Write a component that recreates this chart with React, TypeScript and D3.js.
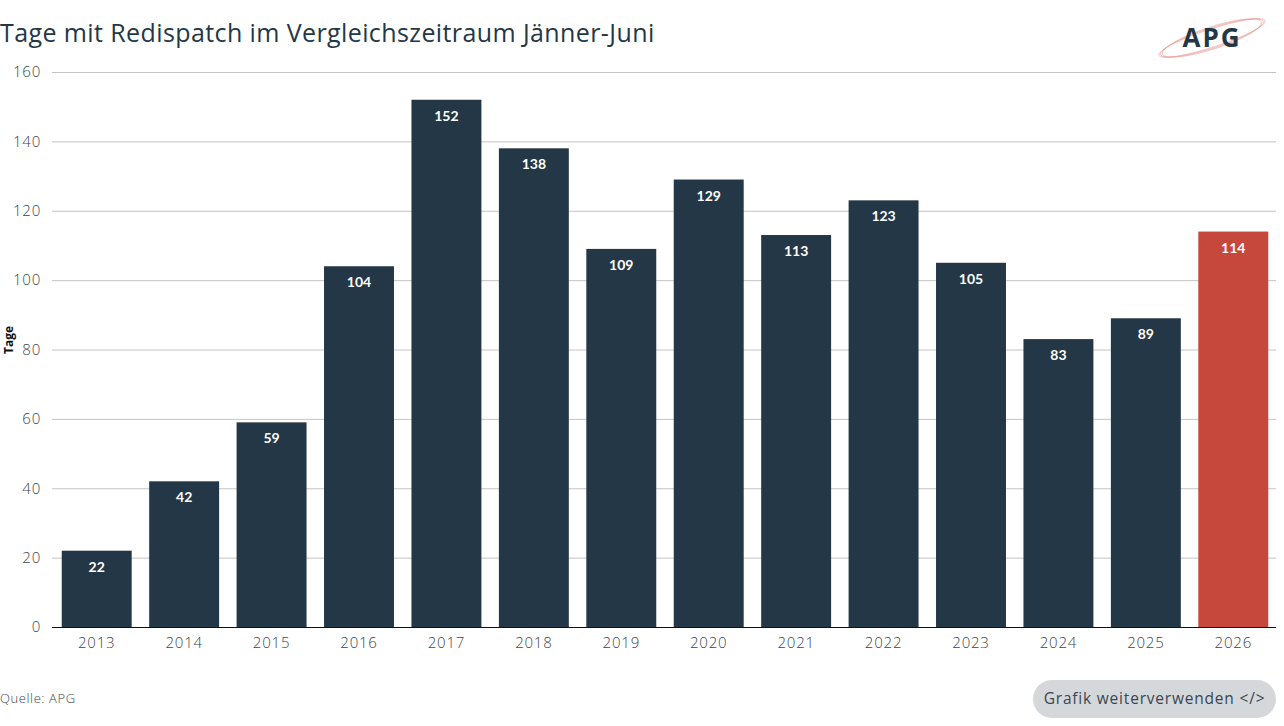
import React, { useRef, useEffect } from 'react';
import * as d3 from 'd3';

const years = ['2013', '2014', '2015', '2016', '2017', '2018', '2019', '2020', '2021', '2022', '2023', '2024', '2025', '2026'];
const days = [22, 42, 59, 104, 152, 138, 109, 129, 113, 123, 105, 83, 89, 114];
const yTicks = [0, 20, 40, 60, 80, 100, 120, 140, 160];

const W = 1284;
const H = 726;
const dark = '#243746';
const red = '#c6473c';
const font = '"Open Sans", sans-serif';
const labelFont = 'Lato, "Open Sans", sans-serif';

const App = () => {
  const svgRef = useRef<SVGSVGElement>(null);

  useEffect(() => {
    if (!svgRef.current) return;
    const svg = d3.select(svgRef.current);
    svg.selectAll('*').remove();

    const x = d3.scaleBand().domain(years).range([53, 1277]).paddingInner(0.2).paddingOuter(0.1);
    const y = d3.scaleLinear().domain([0, 160]).range([627, 72]);

    // titel
    svg.append('text')
      .attr('x', 0).attr('y', 42)
      .attr('font-family', font).attr('font-size', 25)
      .attr('letter-spacing', 0.4)
      .attr('fill', dark)
      .text('Tage mit Redispatch im Vergleichszeitraum Jänner-Juni');

    // logo (vereinfacht)
    const logo = svg.append('g').attr('transform', 'translate(1212,38)');
    [0, 2, 4].forEach(o => {
      logo.append('ellipse')
        .attr('rx', 56 - o).attr('ry', 9 + o / 2)
        .attr('transform', 'rotate(-18)')
        .attr('fill', 'none').attr('stroke', '#e58a86')
        .attr('stroke-width', 0.6).attr('opacity', 0.8);
    });
    logo.append('text')
      .attr('x', 0).attr('y', 9).attr('text-anchor', 'middle')
      .attr('font-family', font).attr('font-size', 26).attr('font-weight', 700)
      .attr('letter-spacing', 2)
      .attr('fill', dark).text('APG');

    // gitter
    const yAxis = d3.axisLeft(y).tickValues(yTicks).tickSize(-(1276 - 52)).tickPadding(11);
    const yg = svg.append('g').attr('transform', 'translate(52,0)').call(yAxis);
    yg.select('.domain').remove();
    yg.selectAll('.tick line').attr('stroke', '#c4c4c4').attr('stroke-width', 1);
    yg.selectAll('.tick text')
      .attr('fill', '#3a4650').attr('font-size', 15).attr('font-family', font)
      .attr('font-weight', 300).attr('letter-spacing', 0.8);

    svg.append('text')
      .attr('transform', 'translate(13,340) rotate(-90)')
      .attr('text-anchor', 'middle')
      .attr('font-family', font).attr('font-size', 12).attr('font-weight', 700)
      .attr('fill', '#111').text('Tage');

    // balken
    svg.selectAll('rect.bar')
      .data(days)
      .enter().append('rect')
      .attr('class', 'bar')
      .attr('x', (d, i) => x(years[i])!)
      .attr('y', d => y(d))
      .attr('width', x.bandwidth())
      .attr('height', d => y(0) - y(d))
      .attr('fill', (d, i) => (i === years.length - 1 ? red : dark));

    svg.selectAll('text.val')
      .data(days)
      .enter().append('text')
      .attr('class', 'val')
      .attr('x', (d, i) => x(years[i])! + x.bandwidth() / 2)
      .attr('y', d => y(d) + 21)
      .attr('text-anchor', 'middle')
      .attr('font-family', labelFont).attr('font-size', 14).attr('font-weight', 700)
      .attr('fill', '#fff')
      .text(d => d);

    // x-achse
    const xg = svg.append('g').attr('transform', 'translate(0,627)')
      .call(d3.axisBottom(x).tickSize(0).tickPadding(10));
    xg.select('.domain').attr('stroke', '#111').attr('d', 'M52,0.5H1276');
    xg.selectAll('.tick text')
      .attr('fill', '#3a4650').attr('font-size', 15).attr('font-family', font)
      .attr('font-weight', 300).attr('letter-spacing', 0.8);

    svg.append('text')
      .attr('x', 0).attr('y', 703)
      .attr('font-family', font).attr('font-size', 13).attr('font-weight', 300)
      .attr('letter-spacing', 0.6)
      .attr('fill', '#3a4650').text('Quelle: APG');

    svg.append('rect')
      .attr('x', 1033).attr('y', 680).attr('width', 243).attr('height', 38)
      .attr('rx', 19).attr('fill', '#d5d8db');
    svg.append('text')
      .attr('x', 1154.5).attr('y', 704).attr('text-anchor', 'middle')
      .attr('font-family', font).attr('font-size', 15.5)
      .attr('letter-spacing', 0.8)
      .attr('fill', '#3a4650').text('Grafik weiterverwenden </>');
  }, []);

  return (
    <svg ref={svgRef} width={W} height={H}
      style={{ position: 'absolute', left: 0, top: 0, background: '#fff' }} />
  );
};

export default App;
